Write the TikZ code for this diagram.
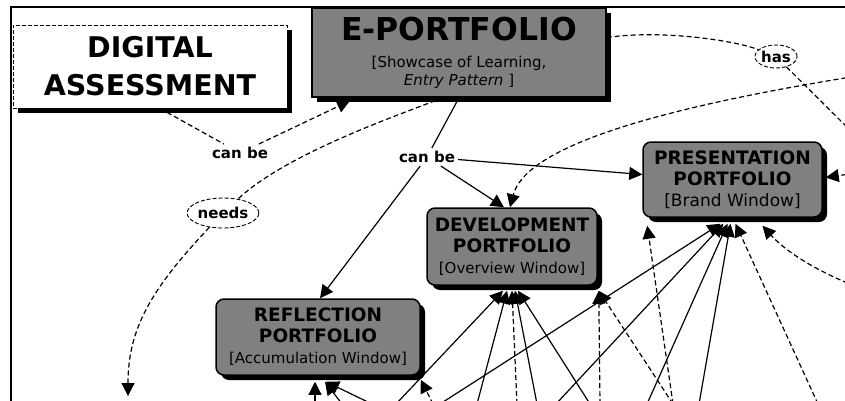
\documentclass[tikz,border=0pt]{standalone}
\usepackage{fontspec}
\setmainfont{DejaVu Sans}
\usetikzlibrary{arrows.meta,shapes.geometric,shadows}
\definecolor{boxgray}{RGB}{128,128,128}
\begin{document}
\begin{tikzpicture}[x=1pt,y=-1pt,
  every node/.style={inner sep=0pt, align=center},
  shadowed/.style={drop shadow={shadow xshift=5pt,shadow yshift=-5pt,fill=black,opacity=1}},
  portfolio/.style={shadowed, draw=black, line width=1.5pt, fill=boxgray, rounded corners=8pt,
    font=\fontsize{15}{21}\selectfont},
  mainbox/.style={shadowed, draw=black, line width=1.5pt, fill=boxgray,
    font=\fontsize{15}{18}\selectfont},
  digibox/.style={shadowed, draw=black, line width=0.9pt, dash pattern=on 4pt off 2pt, fill=white,
    font=\fontsize{28.5}{38}\selectfont\bfseries},
  linking/.style={font=\fontsize{15}{18}\selectfont\bfseries, fill=white, inner sep=3pt},
  oval/.style={ellipse, draw=black, line width=0.9pt, dash pattern=on 4pt off 2pt, fill=white,
    font=\fontsize{15}{18}\selectfont\bfseries, inner sep=0pt},
  conn/.style={line width=1.2pt},
  dconn/.style={conn, dash pattern=on 5pt off 3pt},
  arrowed/.style={-{Triangle[length=13pt,width=13pt]}},
]
\newcommand\ttl[1]{{\fontsize{18.5}{18.5}\selectfont\bfseries #1}}
\useasboundingbox (0,0) rectangle (845,400);
\clip (0,0) rectangle (845,400);

% outer frame
\draw[line width=2pt] (11,430) -- (11,7) -- (880,7);

% concepts
\node[digibox, minimum width=274pt, minimum height=83pt] (dig) at (150,66.5) {DIGITAL\\ASSESSMENT};
\node[mainbox, minimum width=294pt, minimum height=89pt] (eport) at (459,52.5)
  {{\fontsize{31.5}{31.5}\selectfont\bfseries E-PORTFOLIO}\\[9pt]{[Showcase of Learning,}\\\textit{Entry Pattern} ]};
\node[portfolio, minimum width=179pt, minimum height=75pt] (pres) at (732.5,179.5)
  {\ttl{PRESENTATION}\\\ttl{PORTFOLIO}\\{\fontsize{17}{17}\selectfont [Brand Window]}};
\node[portfolio, minimum width=170pt, minimum height=77pt] (dev) at (512,246.5)
  {\ttl{DEVELOPMENT}\\\ttl{PORTFOLIO}\\{[Overview Window]}};
\node[portfolio, minimum width=204pt, minimum height=76pt] (ref) at (318,337)
  {\ttl{REFLECTION}\\\ttl{PORTFOLIO}\\{[Accumulation Window]}};

% linking phrases
\node[linking] (canbeA) at (240,153) {can be};
\node[linking] (canbeB) at (427,157) {can be};
\node[oval, minimum width=60pt, minimum height=30pt] (needs) at (223,213) {needs};
\node[oval, minimum width=42pt, minimum height=23pt] (has) at (776,56.5) {has};

% free ends beyond the visible area
\coordinate (needsEnd) at (128,396);
\coordinate (offTop) at (870,74);
\coordinate (offHas) at (860,140);
\coordinate (offMid) at (870,171);
\coordinate (offLow) at (870,292);
\coordinate (bR1) at (315,404);
\coordinate (bR2) at (342,404);
\coordinate (bR3) at (372,404);
\coordinate (bR4) at (433,404);
\coordinate (bD1) at (396,404);
\coordinate (bD2) at (477,404);
\coordinate (bD3) at (517,404);
\coordinate (bD4) at (537,404);
\coordinate (bD5) at (590,404);
\coordinate (bD6) at (600,404);
\coordinate (bX)  at (673,404);
\coordinate (bP1) at (440,404);
\coordinate (bP2) at (556,404);
\coordinate (bP3) at (647,404);
\coordinate (bP4) at (699,404);
\coordinate (bP5) at (818,404);

% digital assessment -- can be --> e-portfolio
\draw[dconn] ([xshift=10pt]dig.south) -- (canbeA);
\draw[dconn,arrowed] (canbeA) -- ([xshift=-109pt,yshift=-3pt]eport.south);

% e-portfolio -- needs -->
\draw[dconn] ([xshift=-16pt]eport.south) .. controls (390,118) and (285,155) .. (needs);
\draw[dconn,arrowed] (needs) .. controls (150,290) and (128,330) .. (needsEnd);

% e-portfolio -- has -->
\draw[dconn] ([yshift=15pt]eport.east) .. controls +(55,-8) and +(-41,-16) .. (has);
\draw[dconn] (has) -- (offHas);

% e-portfolio -- can be --> the three portfolios
\draw[conn] (eport.south) -- (canbeB);
\draw[conn,arrowed] (canbeB) -- ([xshift=2pt]ref.north);
\draw[conn,arrowed] (canbeB) -- ([xshift=-8pt]dev.north);
\draw[conn,arrowed] (canbeB) -- ([yshift=5pt]pres.west);

% links arriving from the right
\draw[dconn,arrowed] (offTop) .. controls (640,110) and (525,150) .. ([xshift=-2pt]dev.north);
\draw[dconn,arrowed] (offMid) -- ([xshift=3pt,yshift=2pt]pres.east);
\draw[dconn,arrowed] (offLow) .. controls (805,268) and (780,245) .. ([xshift=30pt,yshift=-8pt]pres.south);

% links arriving from below: reflection portfolio
\draw[conn,arrowed] (bR1) -- ([xshift=-3pt,yshift=-6pt]ref.south);
\draw[conn,arrowed] (bR2) -- ([xshift=7pt,yshift=-6pt]ref.south);
\draw[conn,arrowed] (bR3) -- ([xshift=8pt,yshift=-6pt]ref.south);
\draw[dconn,arrowed] (bR4) -- ([yshift=-4pt]ref.south east);

% links arriving from below: development portfolio
\draw[conn,arrowed] (bD1) -- ([xshift=-9pt,yshift=-5pt]dev.south);
\draw[conn,arrowed] (bD2) -- ([xshift=-5pt,yshift=-5pt]dev.south);
\draw[dconn,arrowed] (bD3) -- ([yshift=-5pt]dev.south);
\draw[conn,arrowed] (bD4) -- ([xshift=3pt,yshift=-5pt]dev.south);
\draw[conn,arrowed] (bD5) -- ([xshift=6pt,yshift=-5pt]dev.south);
\draw[dconn,arrowed] (bD6) -- ([xshift=1pt,yshift=-5pt]dev.south east);
\draw[dconn,arrowed] (bX) -- ([xshift=1pt,yshift=-5pt]dev.south east);

% links arriving from below: presentation portfolio
\draw[conn,arrowed] (bP1) -- ([xshift=-12pt,yshift=-6pt]pres.south);
\draw[conn,arrowed] (bP2) -- ([xshift=-9pt,yshift=-6pt]pres.south);
\draw[conn,arrowed] (bP3) -- ([xshift=-5pt,yshift=-6pt]pres.south);
\draw[conn,arrowed] (bP4) -- ([xshift=-2pt,yshift=-6pt]pres.south);
\draw[dconn,arrowed] (bP5) -- ([xshift=3pt,yshift=-6pt]pres.south);
\draw[dconn,arrowed] (bX) -- ([xshift=5pt,yshift=-8pt]pres.south west);
\end{tikzpicture}
\end{document}
